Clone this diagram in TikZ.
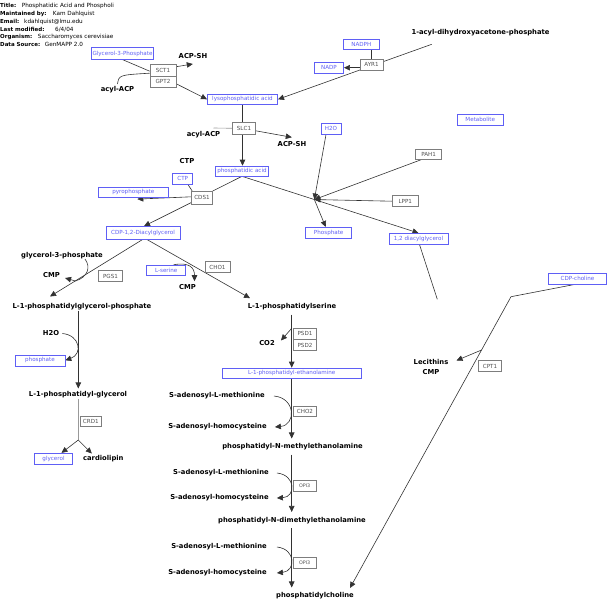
\documentclass[tikz,border=0pt]{standalone}
\usepackage{fontspec}
\setmainfont{DejaVu Sans}
\usepackage{tikz}
\usetikzlibrary{arrows.meta,calc,backgrounds}
\definecolor{metblue}{RGB}{95,95,245}
\definecolor{genegray}{RGB}{125,125,125}
\definecolor{genetext}{RGB}{80,80,80}
\definecolor{linec}{RGB}{50,50,50}
\newcommand{\hdk}[1]{{\fontsize{5.5}{6}\selectfont\bfseries #1}}

\begin{document}
\begin{tikzpicture}[x=1pt, y=-1pt,
  font=\fontsize{5.6}{6.5}\selectfont,
  met/.style={draw=metblue, text=metblue, fill=white, line width=0.6pt, inner sep=0pt, minimum height=11pt},
  gene/.style={draw=genegray, text=genetext, fill=white, line width=0.6pt, inner sep=0pt, minimum width=23pt, minimum height=11pt},
  lbl/.style={font=\fontsize{6.8}{10}\selectfont\bfseries, inner sep=0pt, align=center},
  hdr/.style={anchor=west, inner sep=0pt, font=\fontsize{5.7}{6.5}\selectfont},
  ln/.style={draw=linec, line width=0.6pt},
  faint/.style={draw=black!40, line width=0.6pt},
  rx/.style={ln, -{Triangle[length=6pt,width=5.5pt]}}
]
\useasboundingbox (0,0) rectangle (615,610);

\node[hdr] (k1) at (0,5.7) {\hdk{Title:}};
\node[hdr] (v1) at (21.7,5.7) {Phosphatidic Acid and Phospholi};
\node[hdr] (k2) at (0,13.7) {\hdk{Maintained by:}};
\node[hdr] (v2) at (52.7,13.7) {Kam Dahlquist};
\node[hdr] (k3) at (0,21.7) {\hdk{Email:}};
\node[hdr] (v3) at (24,21.7) {kdahlquist@lmu.edu};
\node[hdr] (k4) at (0,29.3) {\hdk{Last modified:}};
\node[hdr] (v4) at (55,29.3) {6/4/04};
\node[hdr] (k5) at (0,37.3) {\hdk{Organism:}};
\node[hdr] (v5) at (37.7,37.3) {Saccharomyces cerevisiae};
\node[hdr] (k6) at (0,44.3) {\hdk{Data Source:}};
\node[hdr] (v6) at (44.7,44.3) {GenMAPP 2.0};

\node[met, minimum width=61.6pt, minimum height=11.6pt] (g3p) at (122.5,53.5) {Glycerol-3-Phosphate};
\node[met, minimum width=36pt, minimum height=10pt] (nadph) at (361.3,44.3) {NADPH};
\node[met, minimum width=29.3pt] (nadp) at (329,67.7) {NADP};
\node[met, minimum width=70.4pt, minimum height=10pt] (lpa) at (242.5,99.3) {lysophosphatidic acid};
\node[met, minimum width=19.7pt] (h2oa) at (331,128.7) {H2O};
\node[met, minimum width=46pt] (mlegend) at (480.3,119.8) {Metabolite};
\node[met, minimum width=52.6pt, minimum height=10pt] (pa) at (242,171) {phosphatidic acid};
\node[met, minimum width=20pt] (ctpb) at (182.7,178.3) {CTP};
\node[met, minimum width=70pt, minimum height=10pt] (ppi) at (133.3,192.3) {pyrophosphate};
\node[met, minimum width=46pt] (pi) at (328.7,232.8) {Phosphate};
\node[met, minimum width=59pt] (dag) at (418.5,238.8) {1,2 diacylglycerol};
\node[met, minimum width=74pt, minimum height=12.5pt] (cdpdag) at (143,232.7) {CDP-1,2-Diacylglycerol};
\node[met, minimum width=39pt, minimum height=10pt] (ser) at (166.2,270) {L-serine};
\node[met, minimum width=58.3pt] (cdpcho) at (577.5,278.3) {CDP-choline};
\node[met, minimum width=50pt] (pho) at (40,360.3) {phosphate};
\node[met, minimum width=139pt, minimum height=10pt] (pe) at (291.7,373) {L-1-phosphatidyl-ethanolamine};
\node[met, minimum width=38.3pt] (gro) at (53.5,458.7) {glycerol};

\node[gene, minimum height=11.3pt] (ayr1) at (371.5,64.7) {AYR1};
\node[gene, minimum width=26pt, minimum height=11.7pt] (sct1) at (163,70.2) {SCT1};
\node[gene, minimum width=26pt, minimum height=11.5pt] (gpt2) at (163,81.8) {GPT2};
\node[gene, minimum height=11.3pt] (slc1) at (244,128.3) {SLC1};
\node[gene, minimum width=26pt, minimum height=10pt] (pah1) at (428.7,154.2) {PAH1};
\node[gene, minimum width=21pt, minimum height=13pt] (cds1) at (202,197.8) {CDS1};
\node[gene, minimum width=26pt] (lpp1) at (405.3,201.2) {LPP1};
\node[gene, minimum width=24.3pt] (pgs1) at (110.5,276.2) {PGS1};
\node[gene, minimum width=25pt, minimum height=10.7pt] (cho1) at (217.5,267) {CHO1};
\node[gene] (psd1) at (305,333.8) {PSD1};
\node[gene] (psd2) at (305,345) {PSD2};
\node[gene] (cpt1) at (490,366.2) {CPT1};
\node[gene, minimum height=10.7pt] (cho2) at (305,411.3) {CHO2};
\node[gene, minimum width=21.7pt, minimum height=10pt] (crd1) at (90.8,421.7) {CRD1};
\node[gene, font=\fontsize{4.8}{5}\selectfont] (opi3a) at (304.7,486.2) {OPI3};
\node[gene, font=\fontsize{4.8}{5}\selectfont] (opi3b) at (304.7,562.5) {OPI3};

\node[lbl] (dhap) at (480.5,32.5) {1-acyl-dihydroxyacetone-phosphate};
\node[lbl] (acpsha) at (193,56) {ACP-SH};
\node[lbl] (acyla) at (117.5,89.5) {acyl-ACP};
\node[lbl] (acylb) at (203.5,134.5) {acyl-ACP};
\node[lbl] (acpshb) at (292,144.5) {ACP-SH};
\node[lbl] (ctpl) at (187,161.5) {CTP};
\node[lbl] (g3pl) at (62,255.5) {glycerol-3-phosphate};
\node[lbl] (cmpa) at (51.5,275.5) {CMP};
\node[lbl] (cmpb) at (187.5,287) {CMP};
\node[lbl] (pgp) at (82,307) {L-1-phosphatidylglycerol-phosphate};
\node[lbl] (ps) at (292,307) {L-1-phosphatidylserine};
\node[lbl] (h2ob) at (51,333.5) {H2O};
\node[lbl] (co2) at (267,343.5) {CO2};
\node[lbl] (lec) at (431,366.5) {Lecithins\\CMP};
\node[lbl] (pg) at (78,395) {L-1-phosphatidyl-glycerol};
\node[lbl] (samA) at (217,396) {S-adenosyl-L-methionine};
\node[lbl] (sahA) at (217.5,427) {S-adenosyl-homocysteine};
\node[lbl] (pnme) at (292.5,447) {phosphatidyl-N-methylethanolamine};
\node[lbl] (cl) at (103.3,459) {cardiolipin};
\node[lbl] (samB) at (221,473) {S-adenosyl-L-methionine};
\node[lbl] (sahB) at (219.5,498) {S-adenosyl-homocysteine};
\node[lbl] (pndme) at (292,520.5) {phosphatidyl-N-dimethylethanolamine};
\node[lbl] (samC) at (219,547) {S-adenosyl-L-methionine};
\node[lbl] (sahC) at (217.5,573) {S-adenosyl-homocysteine};
\node[lbl] (pc) at (315,596) {phosphatidylcholine};

\coordinate (dhapout) at (431.7,44.3);
\coordinate (jn) at ($(pa.south)!0.41!(dag.north)$);
\coordinate (pgsj) at (75.5,281);
\coordinate (psdj) at (291.7,328.3);
\coordinate (crdj) at (78.3,440);
\coordinate (dagend) at (437.3,299.3);
\coordinate (cpbend) at (511,296.7);
\coordinate (pctip) at ([xshift=-4pt,yshift=4.5pt]pc.north east);
\coordinate (cptj) at ($(cpbend)!0.183!(pctip)$);

\begin{scope}[on background layer]
\draw[ln] (g3p.south) -- ([yshift=-1pt]sct1.west);
\draw[ln] ([yshift=2pt]acyla.north) .. controls (119,75) .. ([yshift=-3pt]sct1.west);
\draw[rx] ([yshift=3.5pt]sct1.east) -- ++(16.5,-2.7);
\draw[rx] ([yshift=-2pt]gpt2.east) -- (lpa.west);
\draw[rx] (dhapout) -- (lpa.east);
\draw[ln] (ayr1.north |- nadph.south) -- (ayr1.north);
\draw[rx] ([yshift=-3pt]ayr1.west) -- (nadp.east);
\draw[rx] (lpa.south) -- (lpa.south |- pa.north);
\draw[faint] ([xshift=10pt,yshift=3pt]acylb.north) -- (slc1.west);
\draw[rx] ([yshift=-2.5pt]slc1.east) -- ++(36,6.5);

\draw[rx] (pa.south) -- (dag.north);
\draw[rx] ([xshift=-5pt]h2oa.south) -- (jn);
\draw[rx] ([xshift=-7pt]pah1.south) -- (jn);
\draw[rx] (lpp1.west) -- (jn);
\draw[rx] (jn) -- ([xshift=-3pt]pi.north);

\draw[ln] (pa.south) -- (cds1.north east);
\draw[ln] ([xshift=5pt]ctpb.south) -- ([xshift=1pt]cds1.north west);
\draw[rx] ([yshift=1pt]cds1.west) -- ([xshift=4pt,yshift=-1.5pt]ppi.south);
\draw[rx] ([yshift=2pt]cds1.south west) -- ([xshift=1pt]cdpdag.north);

\draw[rx] (cdpdag.south) -- ([xshift=-32pt,yshift=7pt]pgp.north);
\draw[rx] ([xshift=3.5pt]cdpdag.south) -- ([xshift=-42pt,yshift=5.3pt]ps.north);
\draw[ln] ([xshift=23pt]g3pl.south) .. controls (91,267) and (88,277) .. (pgsj);
\draw[rx] (pgsj) -- ([xshift=5pt,yshift=-2.5pt]cmpa.east);
\draw[rx] ([xshift=7.5pt]ser.north) .. controls (190,262) and (194.5,268) .. ([xshift=7pt,yshift=3pt]cmpb.north);

\draw[rx] ([xshift=-3.7pt]pgp.south) -- ([xshift=0.3pt,yshift=3pt]pg.north);
\draw[rx] ([xshift=3pt]h2ob.east) .. controls (80,335) and (83,354) .. (pho.east);
\draw[faint] ([xshift=0.3pt]pg.south) -- (crdj);
\draw[rx] (crdj) -- ([xshift=8pt]gro.north);
\draw[rx] (crdj) -- ([xshift=-11.5pt,yshift=2pt]cl.north);

\draw[rx] ($(ps.south -| pe.north)+(0,4)$) -- (pe.north);
\draw[rx] (psdj) -- ([xshift=6pt,yshift=3pt]co2.east);
\draw[rx] (pe.south) -- ($(pnme.north -| pe.south)+(0,-5)$);
\draw[rx] ([xshift=9pt]samA.east) .. controls (296,398) and (296,425) .. ([xshift=8pt]sahA.east);
\draw[rx] ($(pnme.south -| pe.south)+(0,4)$) -- ($(pndme.north -| pe.south)+(0,-5)$);
\draw[rx] ([xshift=8pt]samB.east) .. controls (296,475) and (296,497) .. ([xshift=8pt]sahB.east);
\draw[rx] ($(pndme.south -| pe.south)+(0,4)$) -- ($(pc.north -| pe.south)+(0,-5)$);
\draw[rx] ([xshift=10pt]samC.east) .. controls (296,549) and (296,571) .. ([xshift=10pt]sahC.east);

\draw[ln] ([xshift=1pt]dag.south) -- (dagend);
\draw[rx] ([xshift=-1pt]cdpcho.south) -- (cpbend) -- (pctip);
\draw[rx] (cptj) -- ([xshift=8pt,yshift=6pt]lec.east);
\end{scope}
\end{tikzpicture}
\end{document}
